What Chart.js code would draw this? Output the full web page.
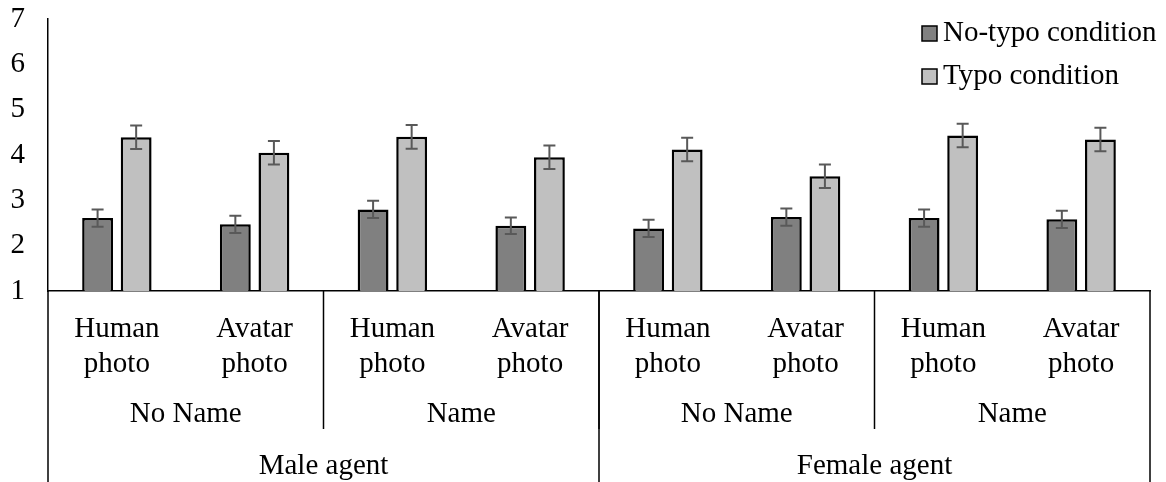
<!DOCTYPE html>
<html>
<head>
<meta charset="utf-8">
<script src="https://cdn.jsdelivr.net/npm/chart.js@4/dist/chart.umd.min.js"></script>
<style>
  body { margin: 0; background: #fff; }
  #wrap { width: 1166px; height: 482px; position: relative; }
</style>
</head>
<body>
<div id="wrap"><canvas id="myChart1"></canvas></div>
<script>
// categories (three levels)
const photos = [["Human", "photo"], ["Avatar", "photo"], ["Human", "photo"], ["Avatar", "photo"],
                ["Human", "photo"], ["Avatar", "photo"], ["Human", "photo"], ["Avatar", "photo"]];
const nameGroups = ["No Name", "Name", "No Name", "Name"];
const agentGroups = ["Male agent", "Female agent"];

// series
const seriesNames = ["No-typo condition", "Typo condition"];
const noTypo = [2.61, 2.47, 2.80, 2.44, 2.38, 2.63, 2.61, 2.58];
const typo = [4.39, 4.05, 4.40, 3.95, 4.12, 3.53, 4.43, 4.34];
const noTypoErr = [0.19, 0.19, 0.19, 0.18, 0.19, 0.19, 0.19, 0.19];
const typoErr = [0.26, 0.26, 0.26, 0.26, 0.26, 0.26, 0.26, 0.26];

// y ticks
const yMin = 1, yMax = 7, yStep = 1;

const FONT = "'Liberation Serif', 'Times New Roman', serif";
const errors = [noTypoErr, typoErr];

// error bars drawn on top of the bars
const errorBars = {
    id: 'errorBars',
    afterDatasetsDraw(chart) {
        const ctx = chart.ctx;
        const y = chart.scales.y;
        ctx.save();
        ctx.strokeStyle = '#595959';
        ctx.lineWidth = 2;
        chart.data.datasets.forEach(function(ds, i) {
            const meta = chart.getDatasetMeta(i);
            meta.data.forEach(function(bar, j) {
                const v = ds.data[j], e = errors[i][j];
                const top = y.getPixelForValue(v + e);
                const bot = y.getPixelForValue(v - e);
                ctx.beginPath();
                ctx.moveTo(bar.x, top); ctx.lineTo(bar.x, bot);
                ctx.moveTo(bar.x - 6, top); ctx.lineTo(bar.x + 6, top);
                ctx.moveTo(bar.x - 6, bot); ctx.lineTo(bar.x + 6, bot);
                ctx.stroke();
            });
        });
        ctx.restore();
    }
};

// second and third level of the x axis, plus the separators
const groupAxis = {
    id: 'groupAxis',
    afterDraw(chart) {
        const ctx = chart.ctx;
        const x = chart.scales.x;
        const area = chart.chartArea;
        const n = photos.length;
        const edge = function(i) {
            if (i <= 0) return area.left;
            if (i >= n) return area.right;
            return (x.getPixelForValue(i - 1) + x.getPixelForValue(i)) / 2;
        };
        const bottom = chart.height;
        const row2End = area.bottom + 138;
        ctx.save();
        ctx.strokeStyle = '#000';
        ctx.lineWidth = 1.5;
        ctx.fillStyle = '#000';
        ctx.font = '29px ' + FONT;
        ctx.textAlign = 'center';
        ctx.textBaseline = 'middle';

        const perName = n / nameGroups.length;
        nameGroups.forEach(function(lbl, k) {
            const l = edge(k * perName), r = edge((k + 1) * perName);
            ctx.fillText(lbl, (l + r) / 2, area.bottom + 123);
            if (k > 0) {
                ctx.beginPath(); ctx.moveTo(l, area.bottom); ctx.lineTo(l, row2End); ctx.stroke();
            }
        });
        const perAgent = n / agentGroups.length;
        agentGroups.forEach(function(lbl, k) {
            const l = edge(k * perAgent), r = edge((k + 1) * perAgent);
            ctx.fillText(lbl, (l + r) / 2, area.bottom + 175);
            ctx.beginPath(); ctx.moveTo(l, area.bottom); ctx.lineTo(l, bottom); ctx.stroke();
            if (k == agentGroups.length - 1) {
                ctx.beginPath(); ctx.moveTo(r, area.bottom); ctx.lineTo(r, bottom); ctx.stroke();
            }
        });
        ctx.restore();
    }
};

// legend sits inside the plot, top right
const insideLegend = {
    id: 'insideLegend',
    afterDraw(chart) {
        const ctx = chart.ctx;
        ctx.save();
        ctx.font = '29px ' + FONT;
        ctx.textBaseline = 'middle';
        ctx.textAlign = 'left';
        chart.data.datasets.forEach(function(ds, i) {
            const cy = 33 + i * 43;
            ctx.fillStyle = ds.backgroundColor;
            ctx.fillRect(922, cy - 7, 15, 15);
            ctx.strokeStyle = '#000';
            ctx.lineWidth = 1.5;
            ctx.strokeRect(922, cy - 7, 15, 15);
            ctx.fillStyle = '#000';
            ctx.fillText(ds.label, 943, cy);
        });
        ctx.restore();
    }
};

const ctx = document.getElementById('myChart1').getContext('2d');
const myChart = new Chart(ctx, {
    type: 'bar',
    data: {
        labels: photos,
        datasets: [
            {
                label: seriesNames[0],
                data: noTypo,
                backgroundColor: '#808080',
                borderColor: '#000',
                borderWidth: 2.5,
                borderSkipped: false
            },
            {
                label: seriesNames[1],
                data: typo,
                backgroundColor: '#c0c0c0',
                borderColor: '#000',
                borderWidth: 2.5,
                borderSkipped: false
            }
        ]
    },
    options: {
        responsive: true,
        maintainAspectRatio: false,
        animation: false,
        categoryPercentage: 0.56,
        barPercentage: 0.8,
        layout: { padding: { top: 19, right: 16, left: 0, bottom: 0 } },
        plugins: {
            legend: { display: false },
            tooltip: { enabled: false }
        },
        scales: {
            x: {
                grid: { display: false, drawTicks: false },
                border: { color: '#000', width: 1.5 },
                ticks: {
                    color: '#000',
                    font: { family: FONT, size: 29 },
                    padding: 21,
                    maxRotation: 0,
                    autoSkip: false
                },
                afterFit: function(scale) { scale.height = 191; }
            },
            y: {
                min: yMin,
                max: yMax,
                grid: { display: false, drawTicks: true, tickLength: 23 },
                border: { color: '#000', width: 1.5 },
                ticks: {
                    stepSize: yStep,
                    color: '#000',
                    font: { family: FONT, size: 29 },
                    padding: 0
                },
                afterFit: function(scale) { scale.width = 48; }
            }
        }
    },
    plugins: [errorBars, groupAxis, insideLegend]
});
</script>
</body>
</html>
